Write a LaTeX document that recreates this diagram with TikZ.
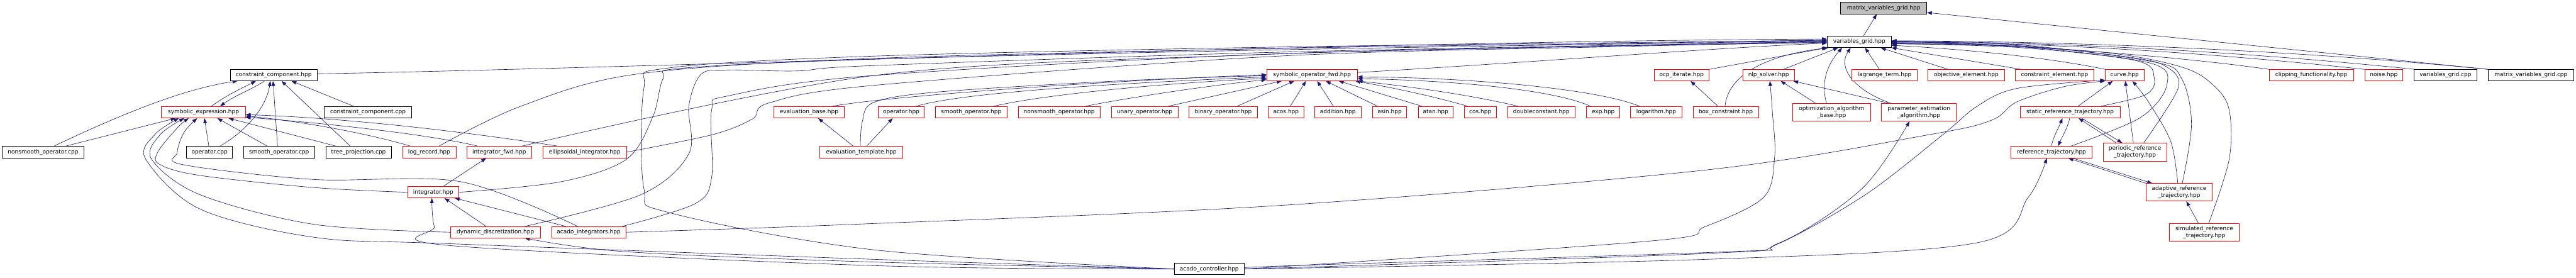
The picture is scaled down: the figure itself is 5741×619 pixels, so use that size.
\documentclass[tikz,border=0pt]{standalone}
\usepackage{fontspec}
\setmainfont{DejaVu Sans}
\usetikzlibrary{arrows.meta}
\definecolor{edgec}{HTML}{191970}
\definecolor{mvgfill}{HTML}{BFBFBF}
\pgfdeclarelayer{bgw}
\pgfdeclarelayer{edges}
\pgfsetlayers{bgw,edges,main}
\tikzset{
 nb/.style={draw, rectangle, inner sep=0pt, line width=1pt, font=\fontsize{12.6}{15}\selectfont, align=center, fill=white},
 rb/.style={nb, draw=red},
 kb/.style={nb, draw=black},
 gb/.style={nb, draw=black, fill=mvgfill},
 e/.style={draw=edgec, line width=0.9pt, -{Triangle[length=11pt,width=8pt]}},
 sm/.style={smooth, tension=0.55},
}
\begin{document}
\begin{tikzpicture}[x=1pt,y=-1pt]
\begin{pgfonlayer}{bgw}
\fill[white] (0,0) rectangle (5741,619);
\end{pgfonlayer}
\useasboundingbox (0,0) rectangle (5741,619);
% row 1-2
\node[gb, minimum width=192pt, minimum height=26pt] (mvg) at (4198,18) {matrix\_variables\_grid.hpp};
\node[kb, minimum width=143pt, minimum height=26pt] (vg) at (4143.5,93) {variables\_grid.hpp};
% row 3
\node[kb, minimum width=194pt, minimum height=25pt] (cch) at (610,167.5) {constraint\_component.hpp};
\node[rb, minimum width=202pt, minimum height=25pt] (sof) at (2924,167.5) {symbolic\_operator\_fwd.hpp};
\node[rb, minimum width=123pt, minimum height=25pt] (ocp) at (3747.5,167.5) {ocp\_iterate.hpp};
\node[rb, minimum width=115pt, minimum height=25pt] (nlp) at (3941.5,167.5) {nlp\_solver.hpp};
\node[rb, minimum width=146pt, minimum height=25pt] (lag) at (4200,167.5) {lagrange\_term.hpp};
\node[rb, minimum width=170pt, minimum height=25pt] (obj) at (4382,167.5) {objective\_element.hpp};
\node[rb, minimum width=176pt, minimum height=25pt] (cel) at (4579,167.5) {constraint\_element.hpp};
\node[rb, minimum width=86pt, minimum height=25pt] (crv) at (4735,167.5) {curve.hpp};
\node[rb, minimum width=188pt, minimum height=25pt] (clip) at (5151,167.5) {clipping\_functionality.hpp};
\node[rb, minimum width=85pt, minimum height=25pt] (noise) at (5312.5,167.5) {noise.hpp};
\node[kb, minimum width=140pt, minimum height=25pt] (vgcpp) at (5450,167.5) {variables\_grid.cpp};
\node[kb, minimum width=191pt, minimum height=25pt] (mvgcpp) at (5640.5,167.5) {matrix\_variables\_grid.cpp};
% row 4
\node[rb, minimum width=187pt, minimum height=26pt] (se) at (453.5,250) {symbolic\_expression.hpp};
\node[kb, minimum width=194pt, minimum height=26pt] (cccpp) at (820,250) {constraint\_component.cpp};
\node[rb, minimum width=158pt, minimum height=26pt] (evb) at (1803,250) {evaluation\_base.hpp};
\node[rb, minimum width=103pt, minimum height=26pt] (oph) at (2008.5,250) {operator.hpp};
\node[rb, minimum width=159pt, minimum height=26pt] (sop) at (2164.5,250) {smooth\_operator.hpp};
\node[rb, minimum width=183pt, minimum height=26pt] (nsop) at (2360.5,250) {nonsmooth\_operator.hpp};
\node[rb, minimum width=148pt, minimum height=26pt] (uop) at (2551,250) {unary\_operator.hpp};
\node[rb, minimum width=152pt, minimum height=26pt] (bop) at (2726,250) {binary\_operator.hpp};
\node[rb, minimum width=80pt, minimum height=26pt] (acos) at (2866,250) {acos.hpp};
\node[rb, minimum width=103pt, minimum height=26pt] (add) at (2981.5,250) {addition.hpp};
\node[rb, minimum width=76pt, minimum height=26pt] (asin) at (3097,250) {asin.hpp};
\node[rb, minimum width=77pt, minimum height=26pt] (atan) at (3199.5,250) {atan.hpp};
\node[rb, minimum width=72pt, minimum height=26pt] (cos) at (3299,250) {cos.hpp};
\node[rb, minimum width=150pt, minimum height=26pt] (dbl) at (3435,250) {doubleconstant.hpp};
\node[rb, minimum width=74pt, minimum height=26pt] (exp) at (3573,250) {exp.hpp};
\node[rb, minimum width=114pt, minimum height=26pt] (logar) at (3691,250) {logarithm.hpp};
\node[rb, minimum width=146pt, minimum height=26pt] (box) at (3846,250) {box\_constraint.hpp};
\node[rb, minimum width=223pt, minimum height=26pt] (srt) at (4613.5,250) {static\_reference\_trajectory.hpp};
\node[rb, minimum width=174pt, minimum height=40pt] (oab) at (4082,250) {optimization\_algorithm\\\_base.hpp};
\node[rb, minimum width=167pt, minimum height=40pt] (pea) at (4276.5,250) {parameter\_estimation\\\_algorithm.hpp};
% row 5
\node[kb, minimum width=182pt, minimum height=26pt] (nscpp) at (96,339) {nonsmooth\_operator.cpp};
\node[kb, minimum width=102pt, minimum height=26pt] (opcpp) at (467,339) {operator.cpp};
\node[kb, minimum width=158pt, minimum height=26pt] (socpp) at (622,339) {smooth\_operator.cpp};
\node[kb, minimum width=146pt, minimum height=26pt] (tpcpp) at (799,339) {tree\_projection.cpp};
\node[rb, minimum width=119pt, minimum height=26pt] (logr) at (956.5,339) {log\_record.hpp};
\node[rb, minimum width=145pt, minimum height=26pt] (ifwd) at (1112.5,339) {integrator\_fwd.hpp};
\node[rb, minimum width=186pt, minimum height=26pt] (ell) at (1303,339) {ellipsoidal\_integrator.hpp};
\node[rb, minimum width=185pt, minimum height=26pt] (evt) at (1919.5,339) {evaluation\_template.hpp};
\node[rb, minimum width=180pt, minimum height=26pt] (rt) at (4572,339) {reference\_trajectory.hpp};
\node[rb, minimum width=142pt, minimum height=40pt] (prt) at (4758,339) {periodic\_reference\\\_trajectory.hpp};
% row 6-8
\node[rb, minimum width=113pt, minimum height=25pt] (integ) at (965.5,428.5) {integrator.hpp};
\node[rb, minimum width=147pt, minimum height=39pt] (art) at (4856.5,428.5) {adaptive\_reference\\\_trajectory.hpp};
\node[rb, minimum width=200pt, minimum height=25pt] (dd) at (1104,517.5) {dynamic\_discretization.hpp};
\node[rb, minimum width=166pt, minimum height=25pt] (ai) at (1312,517.5) {acado\_integrators.hpp};
\node[rb, minimum width=155pt, minimum height=40pt] (simrt) at (4912.5,518) {simulated\_reference\\\_trajectory.hpp};
\node[kb, minimum width=156pt, minimum height=25pt] (ac) at (2695,599.5) {acado\_controller.hpp};

\begin{pgfonlayer}{edges}
% to constraint_component.hpp
\draw[e] ([xshift=116pt]nscpp.north west) .. controls (290,245) and (420,196) .. ([xshift=17pt]cch.south west);
\draw[e] ([xshift=112pt]se.north west) .. controls (505,212) and (540,196) .. ([xshift=58pt]cch.south west);
\draw[e] ([xshift=77pt]cch.south west) .. controls (560,200) and (525,212) .. ([xshift=131pt]se.north west);
\draw[e] ([xshift=75pt]opcpp.north west) .. controls (560,285) and (595,230) .. ([xshift=90pt]cch.south west);
\draw[e] ([xshift=76pt]socpp.north west) -- ([xshift=96pt]cch.south west);
\draw[e] ([xshift=55pt]tpcpp.north west) -- ([xshift=115pt]cch.south west);
\draw[e] ([xshift=65pt]cccpp.north west) -- ([xshift=137pt]cch.south west);
% to symbolic_expression.hpp
\draw[e] ([xshift=142pt]nscpp.north west) -- ([xshift=32pt]se.south west);
\draw[e] ([xshift=50pt]opcpp.north west) -- ([xshift=96pt]se.south west);
\draw[e] ([xshift=53pt]socpp.north west) -- ([xshift=125pt]se.south west);
\draw[e] ([xshift=23pt]tpcpp.north west) -- ([xshift=150pt]se.south west);
\draw[e] ([xshift=18pt]logr.north west) .. controls (800,292) and (650,268) .. ([yshift=5pt]se.south east);
\draw[e] ([xshift=25pt]ifwd.north west) .. controls (950,298) and (700,272) .. ([yshift=2pt]se.south east);
\draw[e] ([xshift=33pt]ell.north west) .. controls (1000,288) and (750,262) .. ([yshift=8pt]se.south east);
\draw[e] plot[sm] coordinates {(integ.west) (700,418) (446,391) (357,367) (351,340) (395,285) ([xshift=61pt]se.south west)};
\draw[e] plot[sm] coordinates {([xshift=59pt]ai.north west) (1027,405) (700,400) (408,367) (395,340) (410,295) ([xshift=80pt]se.south west)};
\draw[e] plot[sm] coordinates {(dd.west) (700,500) (446,434) (338,355) (357,300) ([xshift=51pt]se.south west)};
\draw[e] plot[sm] coordinates {(ac.west) (1950,578) (1000,543) (702,529) (446,466) (325,355) (345,300) ([xshift=39pt]se.south west)};
% integrator family
\draw[e] ([xshift=79pt]integ.north west) -- ([xshift=44pt]ifwd.south west);
\draw[e] ([xshift=80pt]dd.north west) -- ([xshift=82pt]integ.south west);
\draw[e] ([xshift=33pt]ai.north west) -- ([xshift=105pt]integ.south west);
\draw[e] plot[sm] coordinates {(ac.west) (1950,592) (1000,547) (968,505) ([xshift=54pt]integ.south west)};
\draw[e] plot[sm] coordinates {(ac.west) (1950,584) (1396,561) ([xshift=166pt]dd.south west)};
% evaluation
\draw[e] ([xshift=75pt]evt.north west) -- ([xshift=100pt]evb.south west);
\draw[e] ([xshift=105pt]evt.north west) -- ([xshift=33pt]oph.south west);
\draw[e] plot[sm] coordinates {([xshift=91pt]evt.north west) (1922,270) (1948,228) (2090,205) (2500,180) ([yshift=-1pt]sof.west)};
\draw[e] ([xshift=132pt]evb.north west) .. controls (2000,212) and (2500,178) .. ([yshift=1pt]sof.west);
% to symbolic_operator_fwd.hpp
\draw[e] ([xshift=86pt]oph.north west) .. controls (2150,205) and (2500,185) .. ([yshift=-4pt]sof.west);
\draw[e] ([xshift=131pt]sop.north west) .. controls (2330,210) and (2600,185) .. ([yshift=-7pt]sof.west);
\draw[e] ([xshift=151pt]nsop.north west) .. controls (2530,215) and (2700,190) .. ([yshift=-10pt]sof.west);
\draw[e] ([xshift=128pt]uop.north west) -- ([xshift=34pt]sof.south west);
\draw[e] ([xshift=108pt]bop.north west) -- ([xshift=62pt]sof.south west);
\draw[e] ([xshift=50pt]acos.north west) -- ([xshift=88pt]sof.south west);
\draw[e] ([xshift=42pt]add.north west) -- ([xshift=113pt]sof.south west);
\draw[e] ([xshift=11pt]asin.north west) -- ([xshift=132pt]sof.south west);
\draw[e] ([xshift=8pt]atan.north west) -- ([xshift=161pt]sof.south west);
\draw[e] ([xshift=8pt]cos.north west) .. controls (3160,205) and (3060,188) .. ([xshift=-5pt]sof.south east);
\draw[e] ([xshift=23pt]dbl.north west) .. controls (3250,205) and (3080,186) .. (sof.south east);
\draw[e] ([xshift=9pt]exp.north west) .. controls (3450,195) and (3200,178) .. ([yshift=5pt]sof.south east);
\draw[e] ([xshift=20pt]logar.north west) .. controls (3550,195) and (3250,172) .. ([yshift=9pt]sof.south east);
% long edges into variables_grid.hpp from the left
\draw[e] ([yshift=3pt]cch.east) .. controls (1500,150) and (3000,92) .. ([yshift=6pt]vg.west);
\draw[e] plot[sm] coordinates {([xshift=82pt]logr.north west) (1160,237) (1420,165) (1950,130) (2900,107) (3600,97) ([yshift=4pt]vg.west)};
\draw[e] plot[sm] coordinates {([xshift=124pt]ifwd.north west) (1950,168) (2800,122) (3600,102) ([yshift=1pt]vg.west)};
\draw[e] plot[sm] coordinates {(ell.east) (1588,300) (1677,265) (1715,229) (1950,190) (2850,125) (3600,104) ([yshift=-1pt]vg.west)};
\draw[e] plot[sm] coordinates {(integ.east) (1250,405) (1396,355) (1455,260) (1478,175) (1520,152) (1950,132) (2900,110) ([yshift=2pt]vg.west)};
\draw[e] plot[sm] coordinates {([xshift=166pt]dd.north west) (1428,434) (1535,343) (1535,237) (1562,166) (1620,156) (1779,158) (1950,146) (2900,115) (vg.west)};
\draw[e] plot[sm] coordinates {([xshift=158pt]ai.north west) (1549,454) (1586,395) (1586,245) (1626,213) (1950,168) (2900,118) ([yshift=-2pt]vg.west)};
\draw[e] plot[sm] coordinates {(ac.west) (1950,557) (1492,474) (1435,420) (1435,197) (1486,152) (1950,125) (2900,104) ([yshift=3pt]vg.west)};
\draw[e] ([yshift=6pt]sof.east) .. controls (3400,140) and (3800,108) .. ([yshift=-3pt]vg.west);
% near variables_grid.hpp
\draw[e] (ocp.north east) -- (vg.south west);
\draw[e] ([xshift=56pt]box.north west) -- ([xshift=82pt]ocp.south west);
\draw[e] ([xshift=72pt]box.north west) .. controls (3850,175) and (3920,125) .. ([xshift=3pt]vg.south west);
\draw[e] ([xshift=91pt]nlp.north west) -- ([xshift=25pt]vg.south west);
\draw[e] ([xshift=51pt]oab.north west) -- ([xshift=85pt]nlp.south west);
\draw[e] ([xshift=76pt]oab.north west) .. controls (4055,175) and (4080,135) .. ([xshift=34pt]vg.south west);
\draw[e] ([xshift=15pt]pea.north west) -- ([xshift=-3pt]nlp.south east);
\draw[e] ([xshift=20pt]pea.north west) .. controls (4130,200) and (4095,150) .. ([xshift=53pt]vg.south west);
\draw[e] ([xshift=62pt]lag.north west) -- ([xshift=85pt]vg.south west);
\draw[e] ([xshift=45pt]obj.north west) -- ([xshift=120pt]vg.south west);
\draw[e] ([xshift=14pt]cel.north west) -- (vg.south east);
\draw[e] (crv.north west) .. controls (4550,125) and (4350,108) .. ([yshift=-8pt]vg.east);
\draw[e] ([xshift=10pt]vg.north) -- ([xshift=81pt]mvg.south west);
\draw[e] (mvgcpp.north west) -- ([yshift=-10pt]mvg.east);
% right side into variables_grid.hpp
\draw[e] (mvgcpp.north west) .. controls (5100,110) and (4600,92) .. ([yshift=2pt]vg.east);
\draw[e] ([xshift=2pt]vgcpp.north west) .. controls (5000,115) and (4600,94) .. ([yshift=1pt]vg.east);
\draw[e] (noise.north west) .. controls (4950,120) and (4600,96) .. (vg.east);
\draw[e] (clip.north west) .. controls (4850,125) and (4500,98) .. ([yshift=-2pt]vg.east);
\draw[e] plot[sm] coordinates {([xshift=181pt]srt.north west) (4782,211) (4801,174) (4760,135) (4500,106) ([yshift=-4pt]vg.east)};
\draw[e] plot[sm] coordinates {([xshift=134pt]rt.north west) (4770,262) (4829,190) (4790,140) (4500,104) ([yshift=-5pt]vg.east)};
\draw[e] plot[sm] coordinates {([xshift=91pt]prt.north west) (4854,197) (4830,150) (4750,128) (4500,102) ([yshift=-3pt]vg.east)};
\draw[e] plot[sm] coordinates {([xshift=81pt]art.north west) (4884,276) (4862,175) (4800,138) (4500,100) ([yshift=-1pt]vg.east)};
\draw[e] plot[sm] coordinates {([xshift=88pt]simrt.north west) (4968,355) (4968,245) (4933,190) (4864,150) (4700,118) (4400,98) (vg.east)};
% curve.hpp
\draw[e] plot[sm] coordinates {([xshift=71pt]art.north west) (4838,316) (4790,230) ([xshift=61pt]crv.south west)};
\draw[e] ([xshift=68pt]prt.north west) -- ([xshift=45pt]crv.south west);
\draw[e] ([xshift=130pt]srt.north west) -- ([xshift=17pt]crv.south west);
\draw[e] plot[sm] coordinates {(ai.east) (1900,500) (2850,458) (3800,379) (4300,300) (4438,268) (4495,227) (4600,193) (crv.south west)};
\draw[e] plot[sm] coordinates {(ac.east) (2850,593) (3850,561) (3959,545) (4157,434) (4330,300) (4406,237) (4495,197) ([yshift=2pt]crv.south west)};
% acado_controller to the right
\draw[e] plot[sm] coordinates {(ac.east) (3679,537) (3800,505) (3930,440) (3955,350) (3950,250) ([xshift=61pt]nlp.south west)};
\draw[e] plot[sm] coordinates {(ac.east) (3800,565) (3966,541) (4150,420) ([xshift=63pt]pea.south west)};
\draw[e] plot[sm] coordinates {(ac.east) (3800,578) (4406,541) (4520,440) ([xshift=80pt]rt.south west)};
% reference trajectories
\draw[e] ([xshift=90pt]rt.north west) .. controls (4578,300) and (4588,285) .. ([xshift=95pt]srt.south west);
\draw[e] ([xshift=111pt]srt.south west) .. controls (4608,285) and (4598,300) .. ([xshift=105pt]rt.north west);
\draw[e] ([xshift=30pt]prt.north west) -- ([xshift=131pt]srt.south west);
\draw[e] ([xshift=138pt]srt.south west) -- ([xshift=43pt]prt.north west);
\draw[e] (art.north west) -- ([xshift=128pt]rt.south west);
\draw[e] ([xshift=138pt]rt.south west) -- ([xshift=14pt]art.north west);
\draw[e] ([xshift=65pt]simrt.north west) -- ([xshift=90pt]art.south west);
\end{pgfonlayer}
\end{tikzpicture}
\end{document}
